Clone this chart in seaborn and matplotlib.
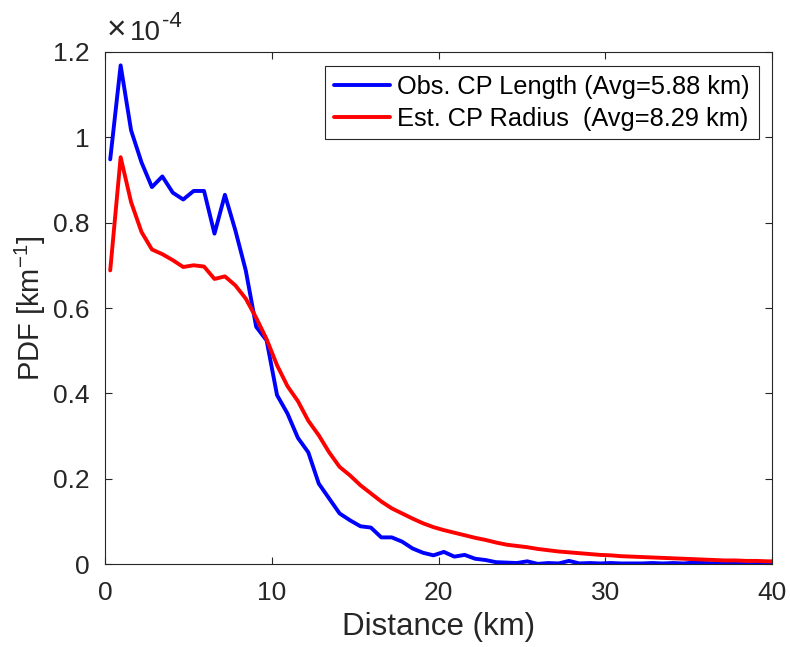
import numpy as np
import pandas as pd
import matplotlib
matplotlib.use("Agg")
import matplotlib.pyplot as plt
import seaborn as sns

# Bin centres (km)
distance = [0.3125 + 0.625 * k for k in range(65)]

# PDF values in units of 1e-4 km^-1
obs_length = [0.948, 1.168, 1.016, 0.941, 0.883, 0.908, 0.870, 0.854, 0.874, 0.874,
              0.774, 0.865, 0.782, 0.688, 0.556, 0.524, 0.396, 0.353, 0.296, 0.262,
              0.189, 0.154, 0.119, 0.103, 0.089, 0.086, 0.063, 0.063, 0.053, 0.037,
              0.027, 0.021, 0.029, 0.018, 0.022, 0.013, 0.010, 0.005, 0.004, 0.003,
              0.007, 0.001, 0.003, 0.002, 0.008, 0.002, 0.003, 0.002, 0.003, 0.002,
              0.002, 0.002, 0.003, 0.002, 0.003, 0.002, 0.004, 0.003, 0.002, 0.003,
              0.002, 0.002, 0.002, 0.002, 0.002]
est_radius = [0.688, 0.953, 0.848, 0.778, 0.737, 0.726, 0.712, 0.696, 0.700, 0.697,
              0.668, 0.674, 0.653, 0.622, 0.577, 0.527, 0.466, 0.417, 0.382, 0.336,
              0.302, 0.262, 0.228, 0.208, 0.185, 0.166, 0.147, 0.131, 0.119, 0.107,
              0.096, 0.087, 0.080, 0.074, 0.068, 0.062, 0.057, 0.051, 0.046, 0.043,
              0.040, 0.036, 0.033, 0.030, 0.028, 0.026, 0.024, 0.022, 0.021, 0.019,
              0.018, 0.017, 0.016, 0.015, 0.014, 0.013, 0.012, 0.011, 0.010, 0.009,
              0.009, 0.008, 0.008, 0.007, 0.007]

labels = ["Obs. CP Length (Avg=5.88 km)", "Est. CP Radius  (Avg=8.29 km)"]
colors = ["#0000ff", "#ff0000"]
x_ticks = [0, 10, 20, 30, 40]
y_ticks = [0, 0.2, 0.4, 0.6, 0.8, 1.0, 1.2]
y_tick_labels = ["0", "0.2", "0.4", "0.6", "0.8", "1", "1.2"]

df = pd.DataFrame({
    "Distance": distance * 2,
    "PDF": obs_length + est_radius,
    "Series": [labels[0]] * len(distance) + [labels[1]] * len(distance),
})

sns.set_style("white")
plt.rcParams["font.family"] = ["Liberation Sans", "DejaVu Sans"]
plt.rcParams["mathtext.fontset"] = "custom"
plt.rcParams["mathtext.rm"] = "Liberation Sans"

fig = plt.figure(figsize=(7.9, 6.47), dpi=100)
ax = fig.add_axes([105 / 790, 1 - 564.3 / 647, (772.3 - 105) / 790, (564.3 - 51.7) / 647])

sns.lineplot(data=df, x="Distance", y="PDF", hue="Series", palette=colors,
             linewidth=2.8, ax=ax, legend=True)

ax.set_xlim(0, 40)
ax.set_ylim(0, 1.2)
ax.set_xticks(x_ticks)
ax.set_yticks(y_ticks)
ax.set_yticklabels(y_tick_labels)

axcol = "#262626"
for s in ax.spines.values():
    s.set_visible(True)
    s.set_color(axcol)
    s.set_linewidth(0.8)
ax.tick_params(direction="in", length=5, width=0.8, color=axcol, labelcolor=axcol,
               labelsize=19, top=True, right=True, left=True, bottom=True)
ax.tick_params(axis="x", pad=12)
ax.tick_params(axis="y", pad=11)

ax.set_xlabel("Distance (km)", fontsize=22.5, color=axcol, labelpad=5)
ax.set_ylabel("PDF [km$^{\\mathrm{-1}}$]", fontsize=21, color=axcol, labelpad=4)

# MATLAB-style exponent label
ax.annotate("\u00d7", xy=(0, 1), xycoords="axes fraction", xytext=(1, 4),
            textcoords="offset points", fontsize=24, color=axcol,
            ha="left", va="bottom")
ax.annotate("10", xy=(0, 1), xycoords="axes fraction", xytext=(18, 4),
            textcoords="offset points", fontsize=20, color=axcol,
            ha="left", va="bottom")
ax.annotate("-4", xy=(0, 1), xycoords="axes fraction", xytext=(41, 14),
            textcoords="offset points", fontsize=16, color=axcol,
            ha="left", va="bottom")

leg = ax.legend(loc="upper right", bbox_to_anchor=(0.980, 0.972), borderaxespad=0,
                fontsize=18.3, frameon=True, fancybox=False, edgecolor=axcol,
                framealpha=1, handlelength=2.2, handletextpad=0.3,
                borderpad=0.35, labelspacing=0.3)
leg.get_frame().set_linewidth(0.8)
for t in leg.get_texts():
    t.set_color("black")

fig.savefig("out.png", dpi=100)
